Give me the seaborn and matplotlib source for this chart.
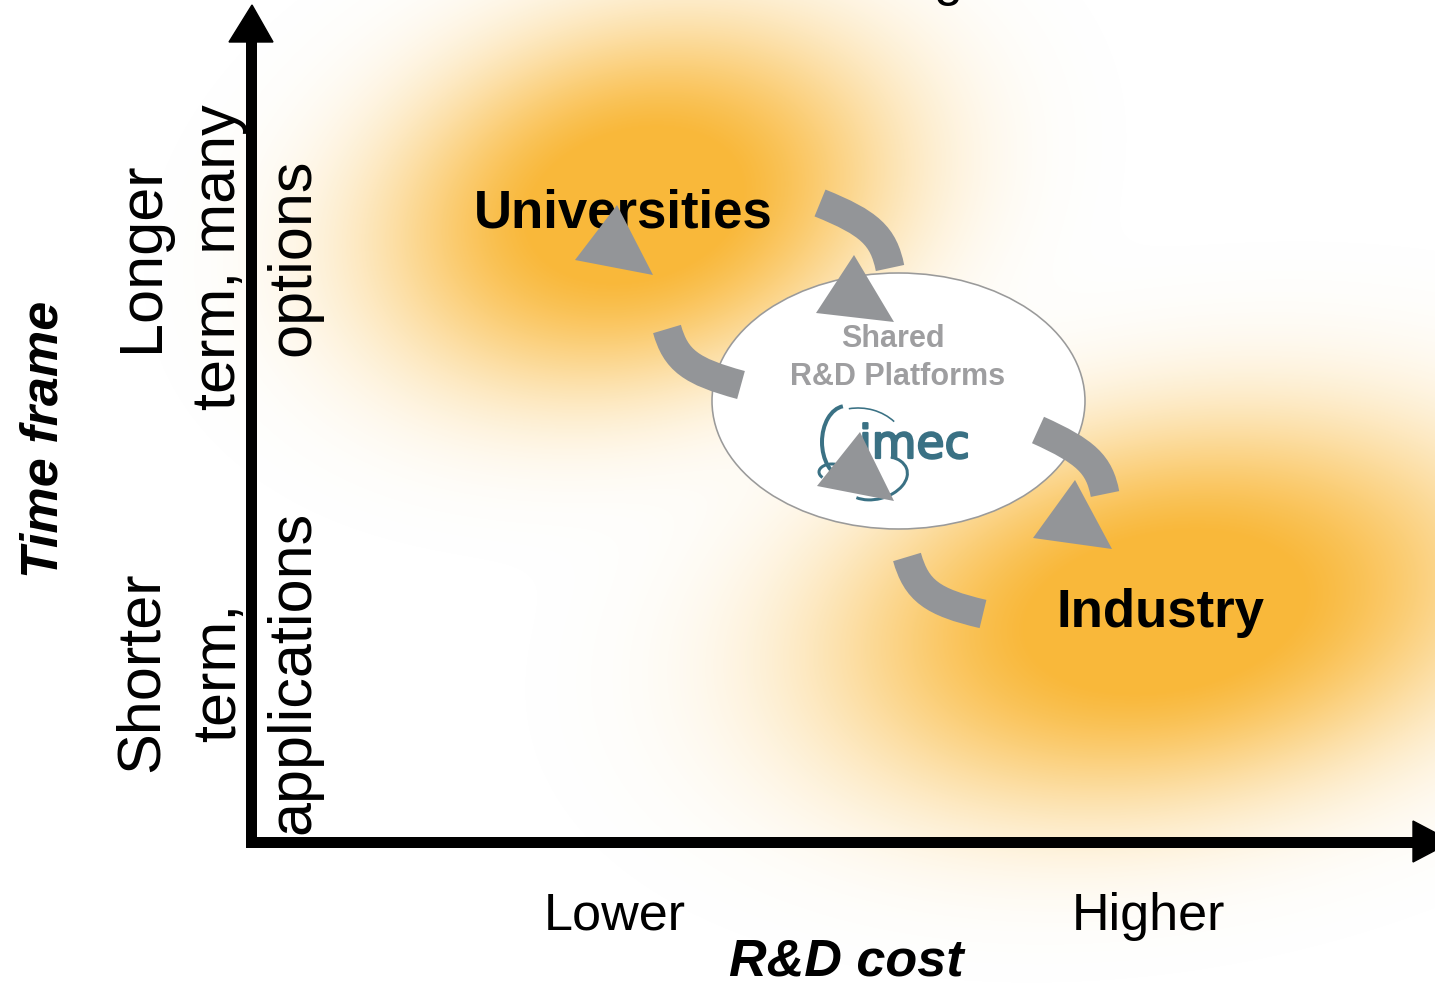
import numpy as np
import matplotlib
matplotlib.use("Agg")
import matplotlib.pyplot as plt
import matplotlib.patheffects as pe
import seaborn as sns
from matplotlib.path import Path
from matplotlib.patches import PathPatch, Polygon, Ellipse, Arc

# ---- content -------------------------------------------------------------
SECTORS = ["Universities", "Industry"]
COST_LEVELS = ["Lower", "Higher"]
HORIZONS = [["Shorter", "term,", "applications"],
            ["Longer", "term, many", "options"]]
HUB_LINES = ["Shared", "R&D Platforms"]
HUB_BRAND = "imec"
AXIS_TITLES = ["R&D cost", "Time frame"]

# ---- layout (pixel space, origin top-left) --------------------------------
W, H = 1435, 986
PX = 72 / 100  # pixels -> points at dpi 100

ORANGE = np.array([249, 184, 58]) / 255
GREY = "#939598"
HUB_GREY = "#9E9EA0"
TEAL = "#3A7184"
INK = "black"

sns.set_theme(style="white")
plt.rcParams["font.family"] = ["Liberation Sans", "DejaVu Sans"]
plt.rcParams["text.color"] = INK

fig = plt.figure(figsize=(W / 100, H / 100), dpi=100)
ax = fig.add_axes([0, 0, 1, 1])
ax.set_xlim(0, W)
ax.set_ylim(H, 0)
ax.set_axis_off()

# ---- soft glows behind the two sectors -------------------------------------
yy, xx = np.mgrid[0:H, 0:W] + 0.5


def glow(cx, cy, ax_x, ax_y, angle_deg):
    a = np.deg2rad(angle_deg)
    dx, dy = xx - cx, yy - cy
    u = dx * np.cos(a) + dy * np.sin(a)
    v = -dx * np.sin(a) + dy * np.cos(a)
    r = np.sqrt((u / ax_x) ** 2 + (v / ax_y) ** 2)
    return np.minimum(1.0, 1.12 * np.exp(-2.4 * r ** 2.6))


alpha = 1 - (1 - glow(635, 205, 360, 245, -15)) * (1 - glow(1165, 612, 465, 258, -10))
rgba = np.zeros((H, W, 4))
rgba[..., :3] = ORANGE
rgba[..., 3] = np.clip(alpha, 0, 1)
ax.imshow(rgba, extent=(0, W, H, 0), origin="upper", zorder=0, interpolation="bilinear")

# ---- axes with arrowheads ---------------------------------------------------
ax.plot([251, 251, 1413], [42, 841.5, 841.5], color=INK, lw=11 * PX,
        solid_joinstyle="miter", solid_capstyle="projecting", zorder=2)
ax.plot([251, 251], [42, 836], color=INK, lw=11 * PX, solid_capstyle="butt", zorder=2)
ax.add_patch(Polygon([(229, 42), (273, 42), (252, 5)], closed=True, color=INK, zorder=2))
ax.add_patch(Polygon([(1413, 821), (1413, 862), (1452, 841.5)], closed=True, color=INK, zorder=2))

# partial title letter peeking in at the top edge
ax.text(948, -5, "g", ha="center", va="baseline", fontsize=37.5, color=INK, zorder=2)

# ---- axis titles & level labels --------------------------------------------
ax.text(846, 976, AXIS_TITLES[0], ha="center", va="baseline", fontsize=37.5,
        fontweight="bold", fontstyle="italic", color=INK, zorder=3)
ax.text(58, 439, AXIS_TITLES[1], ha="center", va="baseline", rotation=90,
        rotation_mode="anchor", fontsize=37.5, fontweight="bold", fontstyle="italic",
        color=INK, zorder=3)

for label, cx in zip(COST_LEVELS, [615, 1148]):
    ax.text(cx, 930, label, ha="center", va="baseline", fontsize=37.5, color=INK, zorder=3)

for lines, cy in zip(HORIZONS, [672, 257]):
    for line, bx in zip(lines, [158, 235, 309]):
        ax.text(bx, cy, line, ha="center", va="baseline", rotation=90,
                rotation_mode="anchor", fontsize=44, color=INK, zorder=3)

for name, (cx, by) in zip(SECTORS, [(623, 227), (1161, 627)]):
    ax.text(cx, by, name, ha="center", va="baseline", fontsize=38,
            fontweight="bold", color=INK, zorder=3)

# ---- shared platform hub ----------------------------------------------------
ax.add_patch(Ellipse((898.5, 401), 373, 256, facecolor="white",
                     edgecolor="#9a9a9a", lw=1.6 * PX, zorder=4))
for line, (cx, by) in zip(HUB_LINES, [(893, 347), (898, 385)]):
    ax.text(cx, by, line, ha="center", va="baseline", fontsize=22,
            fontweight="bold", color=HUB_GREY, zorder=5)

ax.text(859, 458, HUB_BRAND, ha="left", va="baseline", fontsize=33,
        family="DejaVu Sans", color=TEAL, zorder=5,
        path_effects=[pe.withStroke(linewidth=1.6, foreground=TEAL)])
ax.add_patch(Arc((846, 442), 48, 72, theta1=95, theta2=265, color=TEAL, lw=4 * PX, zorder=5))
ax.add_patch(Arc((858, 452), 100, 88, theta1=258, theta2=320, color=TEAL, lw=1.6 * PX, zorder=5))
ax.add_patch(Arc((876, 478), 64, 42, angle=-15, theta1=-40, theta2=150, color=TEAL,
                 lw=3 * PX, zorder=5))
ax.add_patch(Arc((832, 472), 26, 16, angle=0, theta1=150, theta2=330, color=TEAL,
                 lw=3 * PX, zorder=5))

# ---- cycle arrows ----------------------------------------------------------


def band(p0, q, p1, k=0.8):
    p0, q, p1 = map(np.asarray, (p0, q, p1))
    c1 = p0 + k * (q - p0)
    c2 = p1 + k * (q - p1)
    path = Path([p0, c1, c2, p1], [Path.MOVETO, Path.CURVE4, Path.CURVE4, Path.CURVE4])
    ax.add_patch(PathPatch(path, fill=False, edgecolor=GREY, lw=29 * PX,
                           capstyle="butt", zorder=6))


band((820, 203), (882, 228), (890, 268))
band((667, 329), (678, 368), (741, 385))
band((1038, 430), (1098, 457), (1105, 494))
band((907, 557), (919, 599), (983, 614))

for tri in [[(617, 205), (575, 260), (653, 275)],
            [(854, 255), (816, 313), (894, 322)],
            [(1075, 480), (1033, 538), (1112, 549)],
            [(860, 432), (817, 486), (894, 501)]]:
    ax.add_patch(Polygon(tri, closed=True, facecolor=GREY, edgecolor="none", zorder=7))

fig.savefig("out.png", dpi=100)
